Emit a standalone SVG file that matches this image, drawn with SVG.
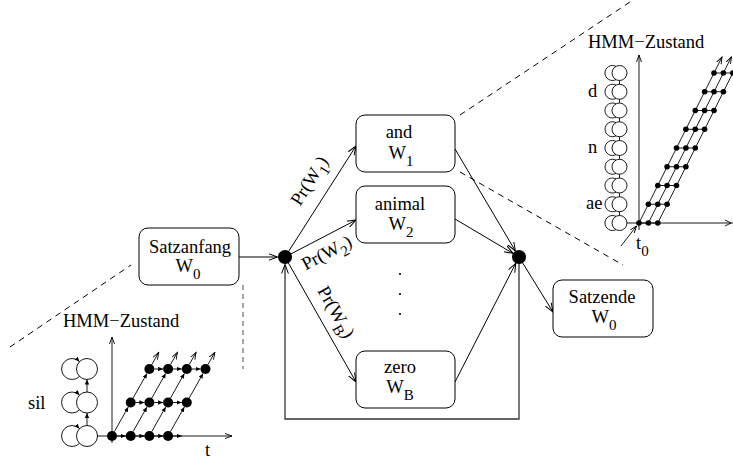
<svg xmlns="http://www.w3.org/2000/svg" width="733" height="459" viewBox="0 0 733 459">
  <style>
    text { font-family: "Liberation Serif", "Times New Roman", serif; font-size: 18.5px; fill: #000; }
    .sub { font-size: 15px; }
    .lbl { text-anchor: middle; }
    .box { fill: #fff; stroke: #000; stroke-width: 1; }
    .edge { fill: none; stroke: #000; stroke-width: 1; }
    .loop { fill: none; stroke: #333; stroke-width: 1.3; }
    .dash { fill: none; stroke: #000; stroke-width: 1; stroke-dasharray: 6 5; }
    .vdash { fill: none; stroke: #777; stroke-width: 1.3; stroke-dasharray: 5 4; }
    .ln { fill: none; stroke: #000; stroke-width: 0.9; }
    .st { fill: none; stroke: #000; stroke-width: 0.9; }
  </style>
  <defs>
    <marker id="arr" markerWidth="10" markerHeight="8" refX="9" refY="4" orient="auto" markerUnits="userSpaceOnUse">
      <path d="M0,0.6 L9,4 L0,7.4" fill="none" stroke="#000" stroke-width="1"/>
    </marker>
    <marker id="arrS" markerWidth="6" markerHeight="5" refX="5" refY="2.2" orient="auto" markerUnits="userSpaceOnUse">
      <path d="M0,0 L5,2.2 L0,4.4 z" fill="#000"/>
    </marker>
    <marker id="arrV" markerWidth="8" markerHeight="6" refX="7" refY="3" orient="auto" markerUnits="userSpaceOnUse">
      <path d="M0,0.5 L7,3 L0,5.5" fill="none" stroke="#000" stroke-width="0.9"/>
    </marker>
  </defs>

  <!-- guide lines linking the state insets to the word graph -->
  <g id="guides">
    <path class="dash" d="M460,115 L633,0"/>
    <path class="dash" d="M460,172 L623,265"/>
    <path class="dash" d="M10,347 L131,265"/>
    <path class="vdash" d="M243,285 V369"/>
  </g>

  <!-- word graph connectors -->
  <g id="connectors">
    <path class="edge" d="M239,257 L277.5,257" marker-end="url(#arr)"/>
    <path class="edge" d="M285,257 L356,146" marker-end="url(#arr)"/>
    <path class="edge" d="M285,257 L356,220" marker-end="url(#arr)"/>
    <path class="edge" d="M285,257 L356,382" marker-end="url(#arr)"/>
    <path class="edge" d="M455,149 L515.4,251" marker-end="url(#arr)"/>
    <path class="edge" d="M455,219 L513,253.4" marker-end="url(#arr)"/>
    <path class="edge" d="M455,382 L515.8,263.2" marker-end="url(#arr)"/>
    <path class="edge" d="M519,257 L553,312" marker-end="url(#arr)"/>
    <path class="loop" d="M519,257 V419 H285 V264.5" marker-end="url(#arr)"/>
  </g>

  <!-- edge probability labels -->
  <g id="edge-labels">
    <text class="lbl" transform="translate(314.5,184) rotate(-57.6)">Pr(W<tspan class="sub" dy="6">1</tspan><tspan dy="-6">)</tspan></text>
    <text class="lbl" transform="translate(329.5,258) rotate(-28)">Pr(W<tspan class="sub" dy="6">2</tspan><tspan dy="-6">)</tspan></text>
    <text class="lbl" transform="translate(331,315) rotate(60.4)">Pr(W<tspan class="sub" dy="6">B</tspan><tspan dy="-6">)</tspan></text>
  </g>

  <g id="satzanfang">
    <rect class="box" x="139" y="228" width="100" height="57" rx="9"/>
    <text class="lbl" x="190" y="253">Satzanfang</text>
    <text class="lbl" x="188" y="272">W<tspan class="sub" dy="7">0</tspan></text>
  </g>

  <g id="junction-start">
    <circle cx="285" cy="257" r="7" fill="#000"/>
  </g>

  <g id="word-and">
    <rect class="box" x="356" y="115" width="99" height="57" rx="9"/>
    <text class="lbl" x="399" y="138">and</text>
    <text class="lbl" x="401" y="159">W<tspan class="sub" dy="7">1</tspan></text>
  </g>

  <g id="word-animal">
    <rect class="box" x="356" y="186" width="99" height="57" rx="9"/>
    <text class="lbl" x="400" y="210">animal</text>
    <text class="lbl" x="401" y="230">W<tspan class="sub" dy="7">2</tspan></text>
  </g>

  <g id="ellipsis">
    <circle cx="400" cy="274" r="1.1" fill="#000"/>
    <circle cx="400" cy="294" r="1.1" fill="#000"/>
    <circle cx="400" cy="314" r="1.1" fill="#000"/>
  </g>

  <g id="word-zero">
    <rect class="box" x="356" y="351" width="99" height="57" rx="9"/>
    <text class="lbl" x="400" y="373">zero</text>
    <text class="lbl" x="400" y="393">W<tspan class="sub" dy="7">B</tspan></text>
  </g>

  <g id="junction-end">
    <circle cx="519" cy="257" r="7" fill="#000"/>
  </g>

  <g id="satzende">
    <rect class="box" x="553" y="280" width="100" height="57" rx="9"/>
    <text class="lbl" x="602" y="303">Satzende</text>
    <text class="lbl" x="604" y="323">W<tspan class="sub" dy="7">0</tspan></text>
  </g>

  <!-- silence model: states over time -->
  <g id="inset-sil">
    <text x="63" y="327">HMM−Zustand</text>
    <text x="28" y="409">sil</text>
    <text x="205" y="456">t</text>
    <!-- axes -->
    <path class="st" d="M112,443 V337" marker-end="url(#arrV)"/>
    <path class="st" d="M97,436 H232" marker-end="url(#arrV)"/>
    <!-- states with self loops -->
    <g class="st">
      <circle cx="87" cy="436" r="10.5"/>
      <circle cx="87" cy="402.5" r="10.5"/>
      <circle cx="87" cy="369" r="10.5"/>
      <path d="M79.5,443.4 A10.5,10.5 0 1 1 79.5,428.6" marker-end="url(#arrS)"/>
      <path d="M79.5,409.9 A10.5,10.5 0 1 1 79.5,395.1" marker-end="url(#arrS)"/>
      <path d="M79.5,376.4 A10.5,10.5 0 1 1 79.5,361.6" marker-end="url(#arrS)"/>
      <path d="M87,425.5 V413" marker-end="url(#arrS)"/>
      <path d="M87,392 V379.5" marker-end="url(#arrS)"/>
    </g>
    <!-- trellis transitions -->
    <g class="ln">
      <path d="M117,436 H125.7" marker-end="url(#arrS)"/>
      <path d="M135.7,436 H144.4" marker-end="url(#arrS)"/>
      <path d="M154.4,436 H163.1" marker-end="url(#arrS)"/>
      <path d="M173.1,436 H181.8" marker-end="url(#arrS)"/>
      <path d="M135.7,402.5 H144.4" marker-end="url(#arrS)"/>
      <path d="M154.4,402.5 H163.1" marker-end="url(#arrS)"/>
      <path d="M173.1,402.5 H181.8" marker-end="url(#arrS)"/>
      <path d="M154.4,369 H163.1" marker-end="url(#arrS)"/>
      <path d="M173.1,369 H181.8" marker-end="url(#arrS)"/>
      <path d="M191.8,369 H200.5" marker-end="url(#arrS)"/>
      <path d="M114.4,431.6 L128.3,406.9" marker-end="url(#arrS)"/>
      <path d="M133.1,431.6 L147,406.9" marker-end="url(#arrS)"/>
      <path d="M151.8,431.6 L165.7,406.9" marker-end="url(#arrS)"/>
      <path d="M170.5,431.6 L184.4,406.9" marker-end="url(#arrS)"/>
      <path d="M133.1,398.1 L147,373.4" marker-end="url(#arrS)"/>
      <path d="M151.8,398.1 L165.7,373.4" marker-end="url(#arrS)"/>
      <path d="M170.5,398.1 L184.4,373.4" marker-end="url(#arrS)"/>
      <path d="M189.2,398.1 L203.1,373.4" marker-end="url(#arrS)"/>
      <path d="M151.8,364.6 L158.7,352.4" marker-end="url(#arrV)"/>
      <path d="M170.5,364.6 L177.4,352.4" marker-end="url(#arrV)"/>
      <path d="M189.2,364.6 L196.1,352.4" marker-end="url(#arrV)"/>
      <path d="M207.9,364.6 L214.8,352.4" marker-end="url(#arrV)"/>
    </g>
    <g fill="#000">
      <circle cx="112" cy="436" r="5"/><circle cx="130.7" cy="436" r="5"/><circle cx="149.4" cy="436" r="5"/><circle cx="168.1" cy="436" r="5"/>
      <circle cx="130.7" cy="402.5" r="5"/><circle cx="149.4" cy="402.5" r="5"/><circle cx="168.1" cy="402.5" r="5"/><circle cx="186.8" cy="402.5" r="5"/>
      <circle cx="149.4" cy="369" r="5"/><circle cx="168.1" cy="369" r="5"/><circle cx="186.8" cy="369" r="5"/><circle cx="205.5" cy="369" r="5"/>
    </g>
  </g>

  <!-- word "and": phoneme states over time -->
  <g id="inset-and">
    <text x="588" y="48">HMM−Zustand</text>
    <text x="588" y="97">d</text>
    <text x="588" y="153">n</text>
    <text x="586" y="209">ae</text>
    <text x="636" y="249">t<tspan class="sub" dy="7">0</tspan></text>
    <!-- axes -->
    <path class="st" d="M639,230 V55" marker-end="url(#arrV)"/>
    <path class="st" d="M627,223 H733"/>
    <path class="st" d="M731,223 L725,220 M731,223 L725,226"/>
    <path class="st" d="M621,246 L636.5,226" marker-end="url(#arrV)"/>
    <!-- state chain -->
    <g class="st">
      <circle cx="619.5" cy="223" r="7.5"/>
      <circle cx="619.5" cy="204.25" r="7.5"/>
      <circle cx="619.5" cy="185.5" r="7.5"/>
      <circle cx="619.5" cy="166.75" r="7.5"/>
      <circle cx="619.5" cy="148" r="7.5"/>
      <circle cx="619.5" cy="129.25" r="7.5"/>
      <circle cx="619.5" cy="110.5" r="7.5"/>
      <circle cx="619.5" cy="91.75" r="7.5"/>
      <circle cx="619.5" cy="73" r="7.5"/>
      <path d="M616,229.6 A7.5,7.5 0 1 1 616,216.4"/>
      <path d="M616,210.9 A7.5,7.5 0 1 1 616,197.6"/>
      <path d="M616,192.1 A7.5,7.5 0 1 1 616,178.9"/>
      <path d="M616,173.4 A7.5,7.5 0 1 1 616,160.1"/>
      <path d="M616,154.6 A7.5,7.5 0 1 1 616,141.4"/>
      <path d="M616,135.9 A7.5,7.5 0 1 1 616,122.6"/>
      <path d="M616,117.1 A7.5,7.5 0 1 1 616,103.9"/>
      <path d="M616,98.4 A7.5,7.5 0 1 1 616,85.1"/>
      <path d="M616,79.6 A7.5,7.5 0 1 1 616,66.4"/>
      <path d="M619.5,215.5 V211.75 M619.5,196.75 V193 M619.5,178 V174.25 M619.5,159.25 V155.5 M619.5,140.5 V136.75 M619.5,121.75 V118 M619.5,103 V99.25 M619.5,84.25 V80.5"/>
    </g>
    <!-- trellis paths -->
    <g class="ln">
      <path d="M639,223 L722,57" marker-end="url(#arrV)"/>
      <path d="M648.4,223 L731.4,57" marker-end="url(#arrV)"/>
      <path d="M657.8,223 L740.8,57"/>
      <path d="M639,223 H657.8 M648.4,204.25 H667.1 M657.8,185.5 H676.5 M667.1,166.75 H685.9 M676.5,148 H695.3 M685.9,129.25 H704.6 M695.3,110.5 H714 M704.6,91.75 H723.4 M714,73 H732.8"/>
    </g>
    <g fill="#000">
      <circle cx="639" cy="223" r="2.8"/><circle cx="648.4" cy="223" r="2.8"/><circle cx="657.8" cy="223" r="2.8"/>
      <circle cx="648.4" cy="204.25" r="2.8"/><circle cx="657.8" cy="204.25" r="2.8"/><circle cx="667.1" cy="204.25" r="2.8"/>
      <circle cx="657.8" cy="185.5" r="2.8"/><circle cx="667.1" cy="185.5" r="2.8"/><circle cx="676.5" cy="185.5" r="2.8"/>
      <circle cx="667.1" cy="166.75" r="2.8"/><circle cx="676.5" cy="166.75" r="2.8"/><circle cx="685.9" cy="166.75" r="2.8"/>
      <circle cx="676.5" cy="148" r="2.8"/><circle cx="685.9" cy="148" r="2.8"/><circle cx="695.3" cy="148" r="2.8"/>
      <circle cx="685.9" cy="129.25" r="2.8"/><circle cx="695.3" cy="129.25" r="2.8"/><circle cx="704.6" cy="129.25" r="2.8"/>
      <circle cx="695.3" cy="110.5" r="2.8"/><circle cx="704.6" cy="110.5" r="2.8"/><circle cx="714" cy="110.5" r="2.8"/>
      <circle cx="704.6" cy="91.75" r="2.8"/><circle cx="714" cy="91.75" r="2.8"/><circle cx="723.4" cy="91.75" r="2.8"/>
      <circle cx="714" cy="73" r="2.8"/><circle cx="723.4" cy="73" r="2.8"/><circle cx="732.8" cy="73" r="2.8"/>
    </g>
  </g>
</svg>
